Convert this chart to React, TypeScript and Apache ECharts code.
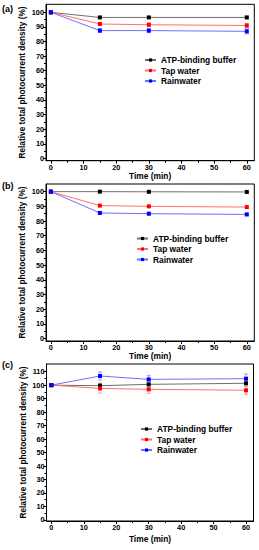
import React, { useEffect, useRef } from "react";
import * as echarts from "echarts";

const TIME = [0, 15, 30, 60];
const SERIES_NAMES = ["ATP-binding buffer", "Tap water", "Rainwater"];

const A_ATP = [100, 96.5, 96.5, 96.5];
const A_TAP = [100, 92, 91.5, 91];
const A_RAIN = [100, 87.5, 87.5, 87];
const A_ATP_ERR = [0, 0.6, 0.6, 0.8];
const A_TAP_ERR = [0, 1.0, 1.2, 1.5];
const A_RAIN_ERR = [0.5, 1.3, 1.5, 1.8];

const B_ATP = [100, 100, 99.9, 99.8];
const B_TAP = [100, 90.5, 90, 89.5];
const B_RAIN = [100, 85.5, 85, 84.5];
const B_ATP_ERR = [0, 0.3, 0.3, 0.4];
const B_TAP_ERR = [0, 0.7, 0.6, 0.8];
const B_RAIN_ERR = [0.3, 0.8, 0.8, 0.9];

const C_ATP = [100, 99.6, 100.6, 101.4];
const C_TAP = [100, 97.6, 96.9, 96.2];
const C_RAIN = [100, 106.8, 104.3, 104.8];
const C_ATP_ERR = [0, 2.0, 2.0, 2.5];
const C_TAP_ERR = [0, 3.5, 3.0, 3.0];
const C_RAIN_ERR = [1.0, 3.0, 3.0, 3.5];

const X_TICKS = [0, 10, 20, 30, 40, 50, 60];
const X_MINOR = [5, 15, 25, 35, 45, 55];
const Y_TICKS_AB = [0, 10, 20, 30, 40, 50, 60, 70, 80, 90, 100];
const Y_MINOR_AB = [5, 15, 25, 35, 45, 55, 65, 75, 85, 95];
const Y_TICKS_C = [0, 10, 20, 30, 40, 50, 60, 70, 80, 90, 100, 110];
const Y_MINOR_C = [5, 15, 25, 35, 45, 55, 65, 75, 85, 95, 105];

const PANEL_LABELS = ["(a)", "(b)", "(c)"];

const MARK_COLORS = ["#000000", "#ff0000", "#0000ff"];
const LINE_COLORS = ["#707070", "#ff7070", "#7070ff"];
const ERR_COLORS = ["#a0a0a0", "#ff9f9f", "#9f9fff"];

const FONT = "'Liberation Sans', Arial, sans-serif";

export default function App() {
  const ref = useRef<HTMLDivElement>(null);
  useEffect(() => {
    if (!ref.current) return;
    const chart = echarts.init(ref.current, undefined, { renderer: "svg" });

    const panels = [
      {
        vals: [A_ATP, A_TAP, A_RAIN],
        errs: [A_ATP_ERR, A_TAP_ERR, A_RAIN_ERR],
        grid: { left: 46, top: 4.3, width: 208.3, height: 156.4 },
        yMin: -1.6, yMax: 105.5,
        yTicks: Y_TICKS_AB, yMinor: Y_MINOR_AB,
        legend: { left: 144, top: 55 },
        label: { x: 2, y: 9 },
        xNameGap: 11,
      },
      {
        vals: [B_ATP, B_TAP, B_RAIN],
        errs: [B_ATP_ERR, B_TAP_ERR, B_RAIN_ERR],
        grid: { left: 46, top: 184, width: 208.3, height: 157 },
        yMin: -1.6, yMax: 105.2,
        yTicks: Y_TICKS_AB, yMinor: Y_MINOR_AB,
        legend: { left: 136, top: 233.5 },
        label: { x: 2, y: 186 },
        xNameGap: 11,
      },
      {
        vals: [C_ATP, C_TAP, C_RAIN],
        errs: [C_ATP_ERR, C_TAP_ERR, C_RAIN_ERR],
        grid: { left: 46.5, top: 364, width: 207, height: 157 },
        yMin: -0.8, yMax: 115.7,
        yTicks: Y_TICKS_C, yMinor: Y_MINOR_C,
        legend: { left: 140, top: 424 },
        label: { x: 2, y: 365.5 },
        xNameGap: 14,
      },
    ];

    const grids: any[] = [];
    const xAxes: any[] = [];
    const yAxes: any[] = [];
    const series: any[] = [];
    const legends: any[] = [];
    const graphics: any[] = [];

    panels.forEach((p, pi) => {
      grids.push({
        ...p.grid,
        show: true,
        borderColor: "#000",
        borderWidth: 1,
        backgroundColor: "transparent",
      });
      xAxes.push({
        type: "value",
        gridIndex: pi,
        min: -1.5,
        max: 62.3,
        position: "bottom",
        axisLine: { show: true, onZero: false, lineStyle: { color: "#000", width: 1 } },
        axisTick: { show: true, inside: false, length: 3, customValues: X_TICKS, lineStyle: { color: "#000" } },
        axisLabel: { show: true, customValues: X_TICKS, fontSize: 7.3, fontWeight: "bold", color: "#000", fontFamily: FONT, margin: 3 },
        splitLine: { show: false },
        name: "Time (min)",
        nameLocation: "middle",
        nameGap: p.xNameGap,
        nameMoveOverlap: false,
        nameTextStyle: { fontSize: 8.4, fontWeight: "bold", color: "#000", fontFamily: FONT },
      });
      xAxes.push({
        type: "value",
        gridIndex: pi,
        min: -1.5,
        max: 62.3,
        position: "bottom",
        axisLine: { show: false, onZero: false },
        axisTick: { show: true, inside: false, length: 2, customValues: X_MINOR, lineStyle: { color: "#000" } },
        axisLabel: { show: false },
        splitLine: { show: false },
      });
      yAxes.push({
        type: "value",
        gridIndex: pi,
        min: p.yMin,
        max: p.yMax,
        position: "left",
        axisLine: { show: true, onZero: false, lineStyle: { color: "#000", width: 1 } },
        axisTick: { show: true, inside: false, length: 3, customValues: p.yTicks, lineStyle: { color: "#000" } },
        axisLabel: { show: true, customValues: p.yTicks, fontSize: 7.3, fontWeight: "bold", color: "#000", fontFamily: FONT, margin: 2 },
        splitLine: { show: false },
        name: "Relative total photocurrent density (%)",
        nameLocation: "middle",
        nameGap: 20,
        nameMoveOverlap: false,
        nameTextStyle: { fontSize: 8.3, fontWeight: "bold", color: "#000", fontFamily: FONT },
      });
      yAxes.push({
        type: "value",
        gridIndex: pi,
        min: p.yMin,
        max: p.yMax,
        position: "left",
        axisLine: { show: false, onZero: false },
        axisTick: { show: true, inside: false, length: 2, customValues: p.yMinor, lineStyle: { color: "#000" } },
        axisLabel: { show: false },
        splitLine: { show: false },
      });

      p.vals.forEach((vals, si) => {
        const errs = p.errs[si];
        series.push({
          type: "custom",
          xAxisIndex: pi * 2,
          yAxisIndex: pi * 2,
          z: 1,
          silent: true,
          data: TIME.map((t, i) => [t, vals[i], errs[i]]),
          renderItem: (params: any, api: any) => {
            const x = api.value(0);
            const y = api.value(1);
            const e = api.value(2);
            if (!e) return { type: "group", children: [] };
            const top = api.coord([x, y + e]);
            const bot = api.coord([x, y - e]);
            const hw = 2;
            const style = { stroke: ERR_COLORS[si], lineWidth: 1 };
            return {
              type: "group",
              children: [
                { type: "line", shape: { x1: top[0], y1: top[1], x2: bot[0], y2: bot[1] }, style },
                { type: "line", shape: { x1: top[0] - hw, y1: top[1], x2: top[0] + hw, y2: top[1] }, style },
                { type: "line", shape: { x1: bot[0] - hw, y1: bot[1], x2: bot[0] + hw, y2: bot[1] }, style },
              ],
            };
          },
        });
        series.push({
          type: "line",
          name: SERIES_NAMES[si],
          xAxisIndex: pi * 2,
          yAxisIndex: pi * 2,
          z: 3,
          data: TIME.map((t, i) => [t, vals[i]]),
          symbol: "rect",
          symbolSize: 4,
          showAllSymbol: true,
          lineStyle: { color: LINE_COLORS[si], width: 1 },
          itemStyle: { color: MARK_COLORS[si] },
        });
      });

      legends.push({
        data: SERIES_NAMES,
        orient: "vertical",
        left: p.legend.left,
        top: p.legend.top,
        itemWidth: 11,
        itemHeight: 4,
        itemGap: 0.5,
        padding: 0,
        selectedMode: false,
        textStyle: { fontSize: 8.4, fontWeight: "bold", color: "#000", fontFamily: FONT, lineHeight: 10 },
      });

      graphics.push({
        type: "text",
        left: p.label.x,
        top: p.label.y - 5,
        style: { text: PANEL_LABELS[pi], fontSize: 9, fontWeight: "bold", fill: "#000", fontFamily: FONT },
      });
    });

    chart.setOption({
      animation: false,
      backgroundColor: "#fff",
      grid: grids,
      xAxis: xAxes,
      yAxis: yAxes,
      series,
      legend: legends,
      graphic: graphics,
    });
    return () => chart.dispose();
  }, []);
  return (
    <div
      ref={ref}
      style={{ position: "absolute", left: 0, top: 0, width: 259, height: 550 }}
    />
  );
}
